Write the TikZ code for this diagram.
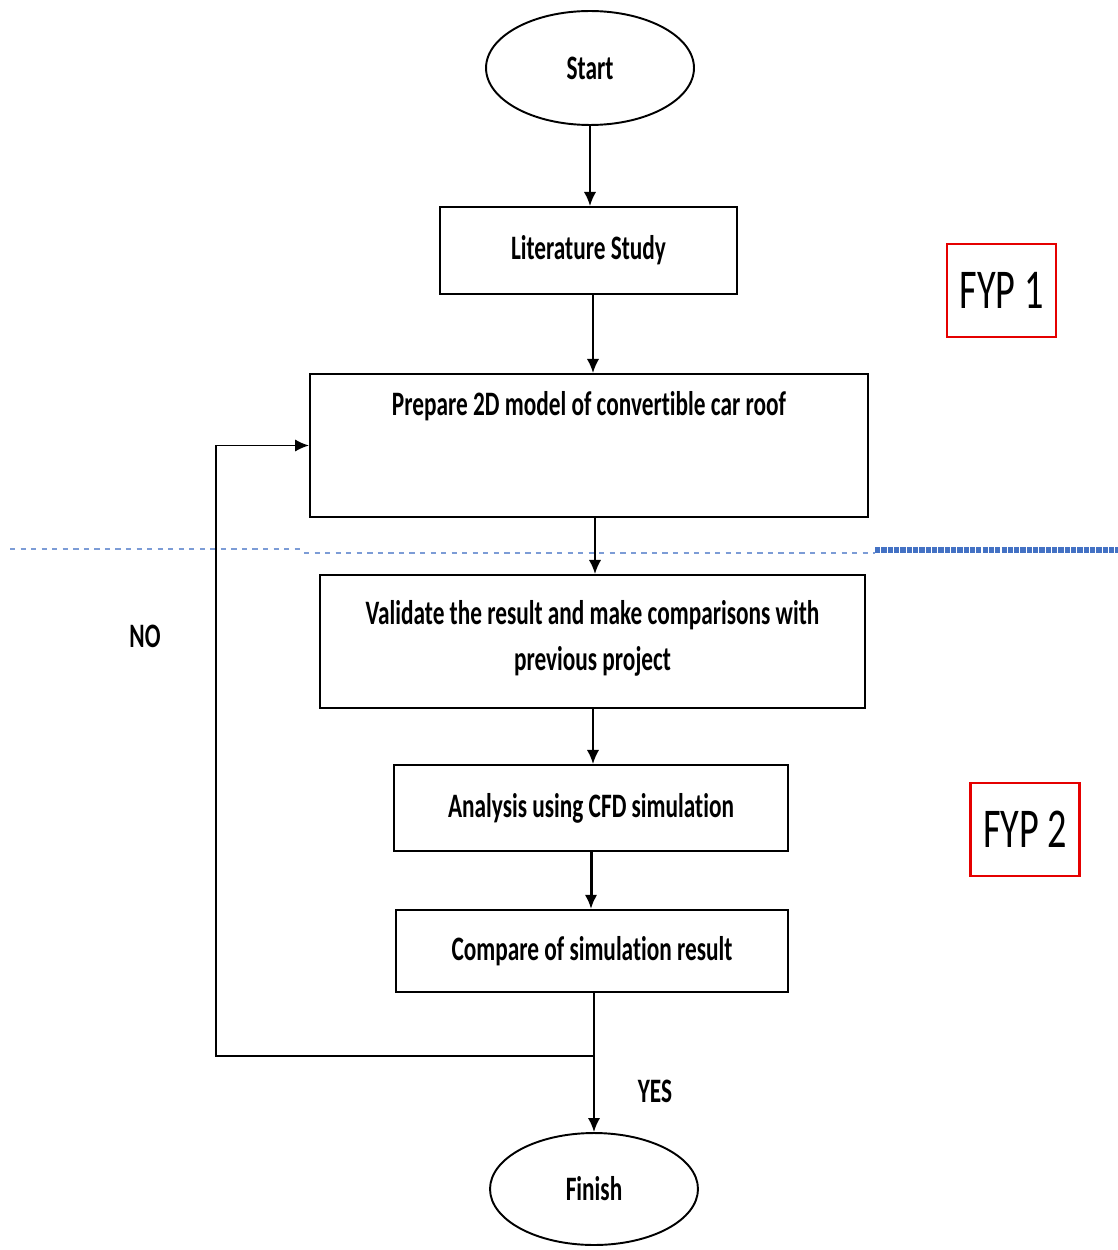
\documentclass[tikz,border=0pt]{standalone}
\usepackage{fontspec}
\setmainfont{Carlito}[FakeStretch=0.68, Ligatures={NoCommon}]
\usetikzlibrary{arrows.meta}
\usetikzlibrary{shapes.geometric}
\tikzset{arr/.style = {-{Latex[length=8pt, width=7pt]}, line width = 1.1pt}}
\tikzset{box/.style = {draw, line width = 1.1pt, inner sep = 0, align = center,
                       font = \fontsize{19.5pt}{26pt}\selectfont\bfseries}}
\tikzset{term/.style = {draw, ellipse, line width = 1.1pt, inner sep = 0,
                        minimum width = 4.16cm, minimum height = 2.28cm,
                        font = \fontsize{19.5pt}{26pt}\selectfont\bfseries}}
\tikzset{fyp/.style = {draw = red!90!black, line width = 1.2pt, inner sep = 0,
                       minimum width = 2.18cm, minimum height = 1.86cm,
                       font = \fontsize{32pt}{36pt}\selectfont}}
\tikzset{mark label/.style = {font = \fontsize{19.5pt}{26pt}\selectfont\bfseries}}
\definecolor{sepblue}{RGB}{68,114,196}

\begin{document}
\begin{tikzpicture}[x = 0.02cm, y = -0.02cm]
        \useasboundingbox [fill = white] (0, 0) rectangle (1118, 1250);
        \node (start) at (590, 68) [term] {Start};
        \node (lit) at (588.5, 250.5) [box, minimum width = 5.94cm, minimum height = 1.74cm] {Literature Study};
        \node (prep) at (589, 445.5) [box, minimum width = 11.16cm, minimum height = 2.86cm] {Prepare 2D model of convertible car roof\\[22pt]\mbox{}};
        \node (valid) at (592.5, 641.5) [box, minimum width = 10.9cm, minimum height = 2.66cm] {Validate the result and make comparisons with\\previous project\\[-19pt]\mbox{}};
        \node (cfd) at (591, 808) [box, minimum width = 7.88cm, minimum height = 1.72cm] {Analysis using CFD simulation};
        \node (comp) at (592, 951) [box, minimum width = 7.84cm, minimum height = 1.64cm] {Compare of simulation result};
        \node (finish) at (594, 1189) [term, minimum height = 2.24cm] {Finish};
        \node (fyp1) at (1001.5, 290.5) [fyp] {FYP 1};
        \node (fyp2) at (1025, 829.5) [fyp] {FYP 2};
        \node (no) at (145, 636) [mark label] {NO};
        \node (yes) at (655, 1091) [mark label] {YES};
        \coordinate (join) at (594, 1056);
        % separation between the two parts
        \draw [sepblue!70, dashed, line width = 1pt] (10, 549) -- (302, 549);
        \draw [sepblue!70, dashed, line width = 1pt] (304, 553) -- (875, 553);
        \draw [sepblue, dash pattern = on 3pt off 0.6pt, line width = 3.5pt] (875, 550) -- (1118, 550);
        % flow
        \draw [arr] (start.south) -- (start.south |- lit.north);
        \draw [arr] (lit.south -| 593, 0) -- (593, 0 |- prep.north);
        \draw [arr] (prep.south -| 595, 0) -- (595, 0 |- valid.north);
        \draw [arr] (valid.south -| 593, 0) -- (593, 0 |- cfd.north);
        \draw [arr, line width = 1.7pt] (cfd.south) -- (cfd.south |- comp.north);
        \draw [line width = 1.1pt] (comp.south -| join) -- (join);
        \draw [arr] (join) -- (finish.north);
        \draw [arr] (join) -- (216, 1056) |- (prep.west);
\end{tikzpicture}
\end{document}
